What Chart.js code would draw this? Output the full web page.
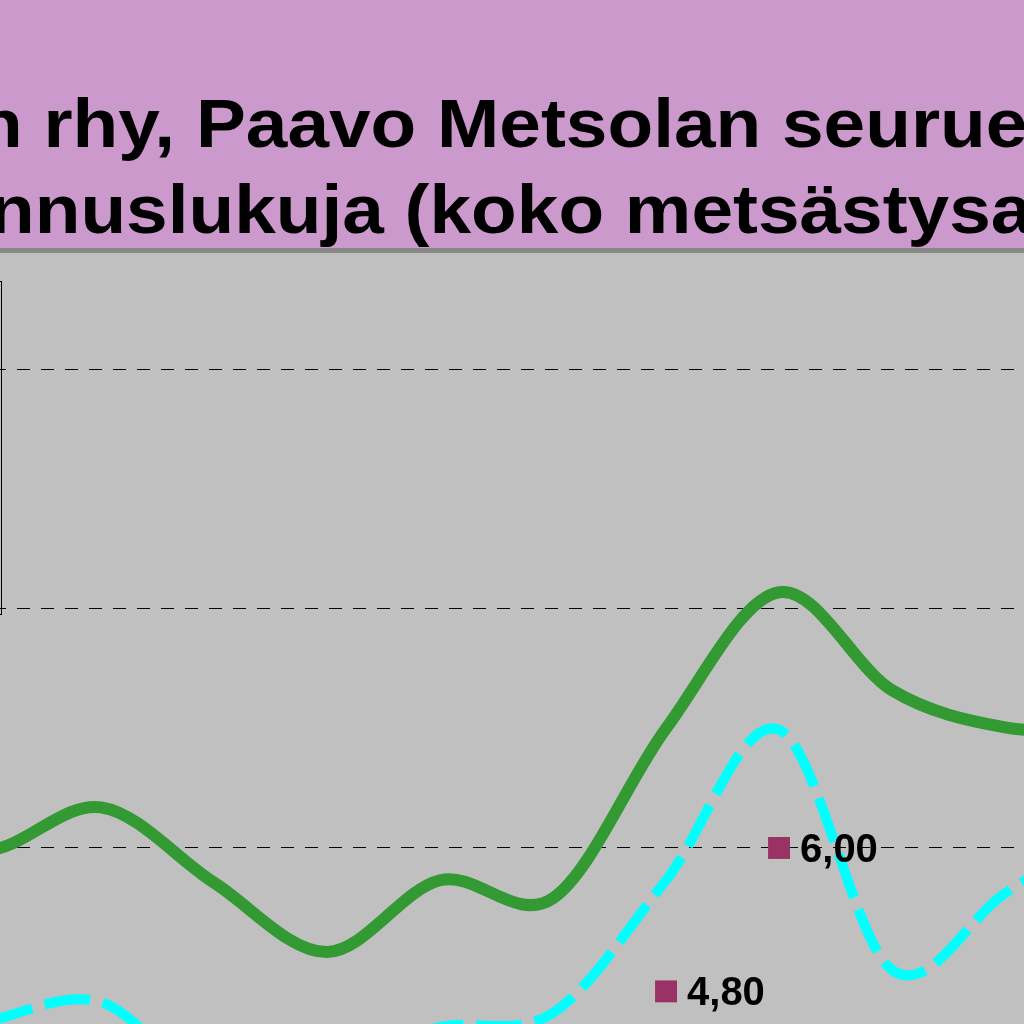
<!DOCTYPE html>
<html>
<head>
<meta charset="utf-8">
<script src="https://cdn.jsdelivr.net/npm/chart.js@4/dist/chart.umd.min.js"></script>
<style>
  html, body { margin: 0; padding: 0; background: #C0C0C0; overflow: hidden; }
  canvas { display: block; }
</style>
</head>
<body>
<canvas id="chart" width="1024" height="1024"></canvas>
<script>
// Only a slice of the original chart is visible, so the series run past both edges
const categories = [0, 1, 2, 3, 4, 5, 6, 7, 8, 9, 10, 11];
const greenValues = [6.20, 5.98, 6.34, 5.71, 5.13, 5.73, 5.58, 7.00, 8.14, 7.32, 7.01, 6.98];
const cyanValues = [4.30, 4.55, 4.71, 4.00, 4.20, 4.50, 4.62, 5.73, 6.99, 4.98, 5.62, 6.20];
const forecastValues = [null, null, null, null, null, null, null, 4.80, 6.00, null, null, null];
const gridValues = [6, 8, 10];
const titleLines = ['n rhy, Paavo Metsolan seurue', 'nnuslukuja (koko metsästysa'];

const toPoints = (values) => categories.map((c, i) => ({ x: c, y: values[i] }));

// Backgrounds, title band and the edge of the box at the far left
const backdrop = {
  id: 'backdrop',
  beforeDraw(chart) {
    const ctx = chart.ctx;
    const w = chart.width;
    ctx.save();
    ctx.fillStyle = '#C0C0C0';
    ctx.fillRect(0, 0, w, chart.height);
    ctx.fillStyle = '#CC99CC';
    ctx.fillRect(0, 0, w, 248);
    ctx.fillStyle = '#878787';
    ctx.fillRect(0, 248, w, 5);
    ctx.strokeStyle = '#000000';
    ctx.lineWidth = 1;
    ctx.strokeRect(-60.5, 281.5, 62, 333);
    ctx.restore();
  },
  afterDraw(chart) {
    const ctx = chart.ctx;
    ctx.save();
    ctx.font = 'bold 68px "Liberation Sans", Arial, sans-serif';
    ctx.fillStyle = '#000000';
    ctx.textBaseline = 'alphabetic';
    // the title font is a bit wider than Arial, so stretch it sideways
    [[titleLines[0], -23, 147], [titleLines[1], -11, 233]].forEach(([text, x, y]) => {
      ctx.save();
      ctx.translate(x, y);
      ctx.scale(1.1, 1);
      ctx.fillText(text, 0, 0);
      ctx.restore();
    });
    ctx.restore();
  }
};

// Excel-like smoothing: uniform Catmull-Rom control points
const smoothLines = {
  id: 'smoothLines',
  beforeDatasetsDraw(chart) {
    [0, 1].forEach(di => {
      const meta = chart.getDatasetMeta(di);
      const pts = meta.data;
      pts.forEach((pt, k) => {
        const prev = pts[k - 1] || pt;
        const next = pts[k + 1] || pt;
        const dx = (next.x - prev.x) / 6;
        const dy = (next.y - prev.y) / 6;
        pt.cp1x = pt.x - dx;
        pt.cp1y = pt.y - dy;
        pt.cp2x = pt.x + dx;
        pt.cp2y = pt.y + dy;
      });
      meta.dataset._pointsUpdated = true;
    });
  }
};

// Value labels next to the forecast markers
const valueLabels = {
  id: 'valueLabels',
  afterDatasetsDraw(chart) {
    const ctx = chart.ctx;
    const meta = chart.getDatasetMeta(2);
    ctx.save();
    ctx.font = 'bold 40px "Liberation Sans", Arial, sans-serif';
    ctx.fillStyle = '#000000';
    ctx.textBaseline = 'alphabetic';
    meta.data.forEach((pt, i) => {
      const v = forecastValues[i];
      if (v == null) return;
      ctx.fillText(v.toFixed(2).replace('.', ','), pt.x + 21, pt.y + 14);
    });
    ctx.restore();
  }
};

new Chart(document.getElementById('chart'), {
  type: 'line',
  data: {
    datasets: [
      {
        data: toPoints(greenValues),
        borderColor: '#339933',
        borderWidth: 12,
        pointRadius: 0,
        tension: 0.4,
        fill: false,
        order: 2
      },
      {
        data: toPoints(cyanValues),
        borderColor: '#00FFFF',
        borderWidth: 10,
        borderDash: [46, 13],
        borderCapStyle: 'butt',
        pointRadius: 0,
        tension: 0.4,
        fill: false,
        order: 2
      },
      {
        data: toPoints(forecastValues),
        showLine: false,
        pointStyle: 'rect',
        pointRadius: 15.5,
        pointBackgroundColor: '#993366',
        pointBorderWidth: 0,
        order: 1
      }
    ]
  },
  options: {
    responsive: false,
    animation: false,
    devicePixelRatio: 1,
    layout: { autoPadding: false, padding: { top: 253, left: 0, right: 0, bottom: 0 } },
    plugins: {
      legend: { display: false },
      title: { display: false },
      tooltip: { enabled: false }
    },
    scales: {
      x: {
        type: 'linear',
        display: false,
        min: 1.106,
        max: 10.168
      },
      y: {
        min: 4.527,
        max: 10.979,
        afterBuildTicks: (scale) => {
          scale.ticks = gridValues.map(v => ({ value: v }));
        },
        ticks: { display: false },
        grid: { color: '#000000', lineWidth: 1, drawTicks: false },
        border: { display: false, dash: [13, 11], dashOffset: 7 }
      }
    }
  },
  plugins: [backdrop, smoothLines, valueLabels]
});
</script>
</body>
</html>
